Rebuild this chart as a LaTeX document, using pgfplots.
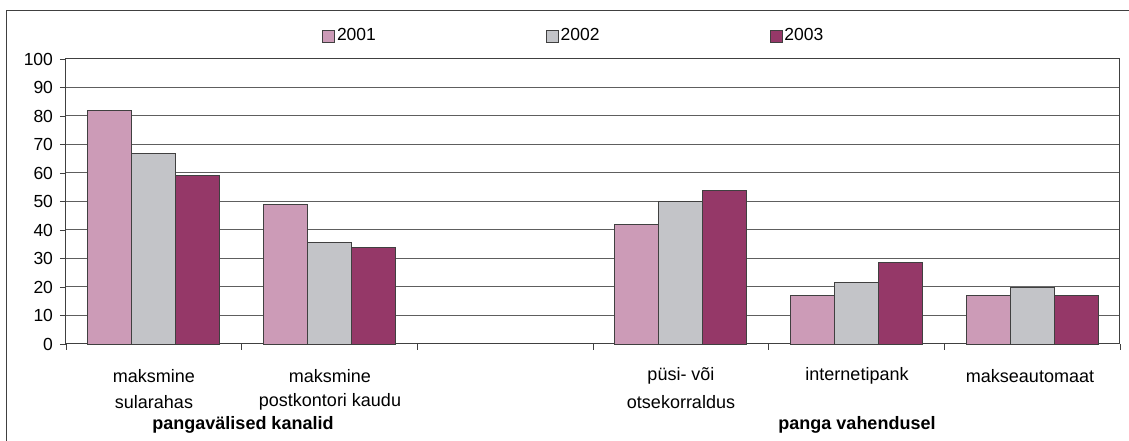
\documentclass[border=0pt]{standalone}
\usepackage{pgfplots}
\pgfplotsset{compat=1.18}
\usepackage{fontspec}
\setmainfont{Liberation Sans}
\definecolor{cA}{HTML}{CC9BB7}
\definecolor{cB}{HTML}{C3C4C8}
\definecolor{cC}{HTML}{953868}
\definecolor{edge}{HTML}{404040}
\definecolor{gridc}{HTML}{5E5E5E}
\begin{document}
\fontsize{17.5pt}{20pt}\selectfont
\begin{tikzpicture}[x=1pt,y=1pt]
\useasboundingbox (-66,-97) rectangle (1063,344);
\draw[draw=edge, line width=1pt] (-59,-110) -- (-59,333) -- (1075,333);
\begin{axis}[
  at={(0,0)}, anchor=south west,
  scale only axis, width=1054pt, height=285pt,
  xmin=0, xmax=6, ymin=0, ymax=100,
  ybar=0pt, bar width=44pt,
  xtick={0,1,2,3,4,5,6}, xticklabels={},
  ytick={0,10,...,100},
  xtick pos=bottom, ytick pos=left,
  tick align=outside, major tick length=6pt,
  ymajorgrids, grid style={gridc, line width=1pt},
  axis line style={draw=edge, line width=1pt},
  tick style={draw=edge, line width=0.9pt},
  /pgf/number format/assume math mode=true,
  yticklabel style={font=\fontsize{17.5pt}{20pt}\selectfont, xshift=-1pt},
  clip=false,
  legend style={draw=none, fill=none, at={(0.2429,1.0807)}, anchor=west, inner sep=0pt,
    legend columns=3, font=\fontsize{17.5pt}{20pt}\selectfont,
    /tikz/every even column/.append style={column sep=168pt},
    /tikz/every odd column/.append style={column sep=0pt}},
  legend image code/.code={\draw[#1, draw=edge, line width=0.8pt] (0pt,-6pt) rectangle (12pt,6pt);},
  legend cell align=left,
]
\addplot[fill=cA, draw=edge, line width=0.8pt] coordinates {(0.5,82) (1.5,49) (3.5,42) (4.5,17) (5.5,17)};
\addplot[fill=cB, draw=edge, line width=0.8pt] coordinates {(0.5,67) (1.5,35.5) (3.5,50) (4.5,21.5) (5.5,20)};
\addplot[fill=cC, draw=edge, line width=0.8pt] coordinates {(0.5,59) (1.5,34) (3.5,54) (4.5,28.5) (5.5,17)};
\legend{2001,2002,2003}
\end{axis}
\begin{scope}[every node/.style={font=\fontsize{18pt}{20pt}\selectfont, inner sep=0pt}]
\node at (88,-32) {maksmine};
\node at (88,-58) {sularahas};
\node at (264,-32) {maksmine};
\node at (264,-58) {postkontori kaudu};
\node at (615,-32) {püsi- või};
\node at (615,-58) {otsekorraldus};
\node at (791,-32) {internetipank};
\node at (964,-32) {makseautomaat};
\node[font=\fontsize{18pt}{20pt}\selectfont\bfseries] at (177,-81) {pangavälised kanalid};
\node[font=\fontsize{18pt}{20pt}\selectfont\bfseries] at (791,-81) {panga vahendusel};
\end{scope}
\end{tikzpicture}
\end{document}
